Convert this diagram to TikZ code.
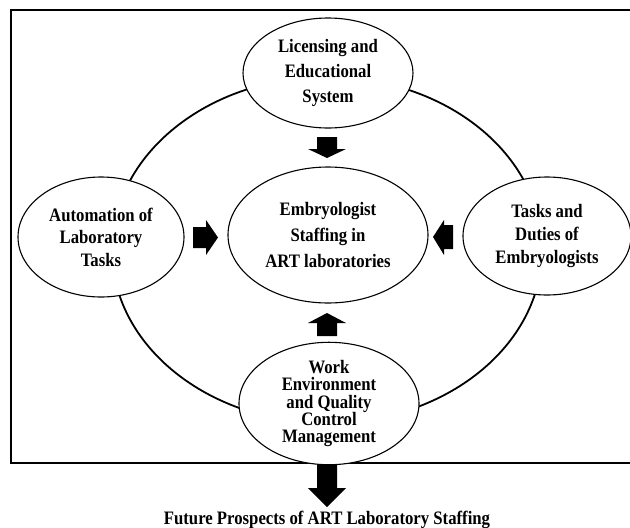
\documentclass[tikz,border=0pt]{standalone}
\usepackage{fontspec}
\setmainfont{Liberation Serif}[FakeStretch=0.88]
\usetikzlibrary{shapes.geometric}
\begin{document}
\begin{tikzpicture}[x=1pt,y=-1pt,
  bub/.style={ellipse, draw, line width=1.1pt, fill=white, inner sep=0pt,
    align=center, font=\bfseries\fontsize{19}{25}\selectfont},
  blockarrow/.style={fill=black},
  frame/.style={line width=2pt},
  ring/.style={line width=1.8pt}]
\clip (0,0) rectangle (630,528);
\fill[white] (0,0) rectangle (630,528);
% outer frame
\draw[frame] (11,9.5) rectangle (650,463);
% big ring
\draw[ring] (327,250) ellipse [x radius=215pt, y radius=173pt];
% ellipses
\node[bub, minimum width=170pt, minimum height=110pt] (lic) at (328,73)
  {Licensing and\\Educational\\System};
\node[bub, minimum width=200pt, minimum height=136pt,
  font=\bfseries\fontsize{19}{26}\selectfont] (emb) at (328,235)
  {Embryologist\\Staffing in\\ART laboratories};
\node[bub, minimum width=166pt, minimum height=120pt,
  font=\bfseries\fontsize{19}{22.5}\selectfont] (aut) at (101,237)
  {Automation of\\Laboratory\\Tasks};
\node[bub, minimum width=168pt, minimum height=118pt,
  font=\bfseries\fontsize{19}{23.5}\selectfont] (tsk) at (547,236)
  {Tasks and\\Duties of\\Embryologists};
\node[bub, minimum width=180pt, minimum height=113pt,
  font=\bfseries\fontsize{19}{17.3}\selectfont] (wrk) at (329,403.5)
  {Work\\Environment\\and Quality\\Control\\Management};
% block arrows
\fill[blockarrow] (317,137) -- (337,137) -- (337,149) -- (346,149) -- (327,158)
  -- (308,149) -- (317,149) -- cycle;
\fill[blockarrow] (327,313) -- (346,323) -- (337,323) -- (337,336) -- (317,336)
  -- (317,323) -- (308,323) -- cycle;
\fill[blockarrow] (193,227) -- (206,227) -- (206,220) -- (218,237.5) -- (206,255)
  -- (206,248) -- (193,248) -- cycle;
\fill[blockarrow] (453,225) -- (444,225) -- (444,220) -- (433,237) -- (444,255)
  -- (444,249) -- (453,249) -- cycle;
\fill[blockarrow] (317,464) -- (337,464) -- (337,488) -- (346,488) -- (327,507)
  -- (308,488) -- (317,488) -- cycle;
% bottom caption
\node[font=\bfseries\fontsize{19}{22}\selectfont, anchor=base, inner sep=0pt] (fut)
  at (327,524) {Future Prospects of ART Laboratory Staffing};
\end{tikzpicture}
\end{document}
